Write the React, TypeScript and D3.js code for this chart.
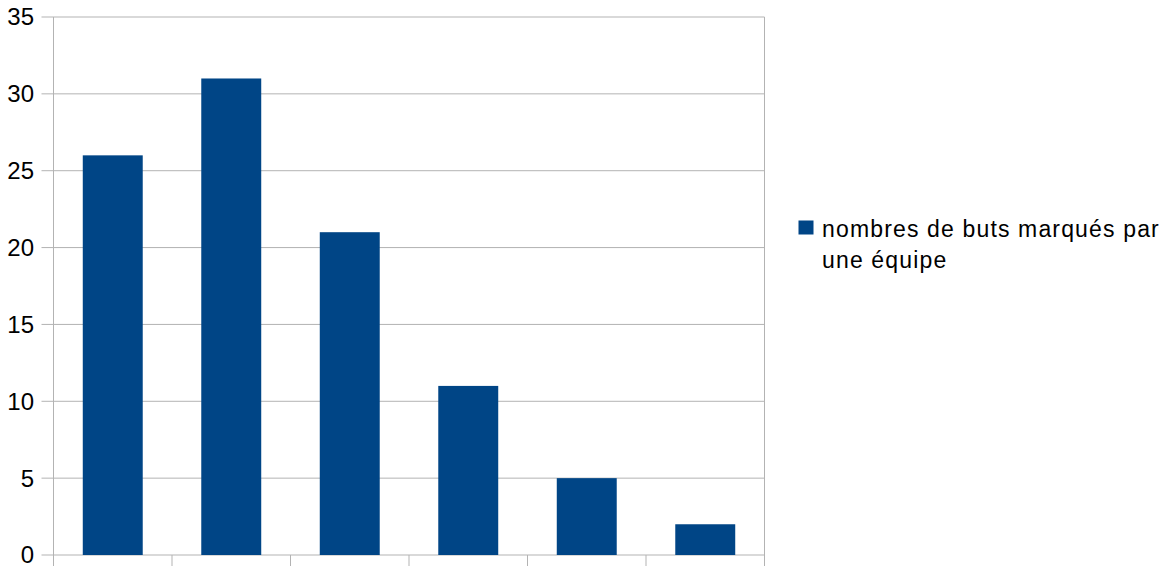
import React, { useEffect, useRef } from "react";
import * as d3 from "d3";

const categories = ["0", "1", "2", "3", "4", "5"];
const goals = [26, 31, 21, 11, 5, 2];
const yTicks = [0, 5, 10, 15, 20, 25, 30, 35];
const legendLines = ["nombres de buts marqués par", "une équipe"];

const App = () => {
  const svg = useRef(null);

  useEffect(() => {
    const width = 1172;
    const height = 566;
    const margin = { top: 17, right: 407.5, bottom: 11, left: 53.5 };

    const root = d3.select(svg.current);
    root.selectAll("*").remove();

    const x = d3
      .scaleBand()
      .domain(categories)
      .range([margin.left, width - margin.right])
      .paddingInner(0.494)
      .paddingOuter(0.247);

    const y = d3
      .scaleLinear()
      .domain([0, 35])
      .range([height - margin.bottom, margin.top]);

    // grid lines
    root
      .append("g")
      .selectAll("line")
      .data(yTicks)
      .join("line")
      .attr("x1", margin.left - 12)
      .attr("x2", width - margin.right)
      .attr("y1", (d) => y(d))
      .attr("y2", (d) => y(d))
      .attr("stroke", "#b3b3b3")
      .attr("stroke-width", 1);

    // y labels
    root
      .append("g")
      .selectAll("text")
      .data(yTicks)
      .join("text")
      .attr("x", 34)
      .attr("y", (d) => y(d))
      .attr("dy", "0.35em")
      .attr("text-anchor", "end")
      .attr("font-family", "Liberation Sans, Arial, sans-serif")
      .attr("font-size", 24)
      .attr("fill", "#000")
      .text((d) => d);

    // vertical axis + right border
    root
      .append("line")
      .attr("x1", margin.left)
      .attr("x2", margin.left)
      .attr("y1", margin.top)
      .attr("y2", height)
      .attr("stroke", "#b3b3b3");
    root
      .append("line")
      .attr("x1", width - margin.right)
      .attr("x2", width - margin.right)
      .attr("y1", margin.top)
      .attr("y2", height)
      .attr("stroke", "#b3b3b3");

    // category ticks
    const step = x.step();
    root
      .append("g")
      .selectAll("line")
      .data(categories.slice(1))
      .join("line")
      .attr("x1", (d) => x(d) - (step - x.bandwidth()) / 2)
      .attr("x2", (d) => x(d) - (step - x.bandwidth()) / 2)
      .attr("y1", y(0))
      .attr("y2", height)
      .attr("stroke", "#b3b3b3");

    // bars
    root
      .append("g")
      .selectAll("rect")
      .data(goals)
      .join("rect")
      .attr("x", (d, i) => x(categories[i]))
      .attr("y", (d) => y(d))
      .attr("width", x.bandwidth())
      .attr("height", (d) => y(0) - y(d))
      .attr("fill", "#004586");

    // legend
    const legend = root.append("g");
    legend
      .append("rect")
      .attr("x", 798.5)
      .attr("y", 220.5)
      .attr("width", 15)
      .attr("height", 14)
      .attr("fill", "#004586");
    legend
      .selectAll("text")
      .data(legendLines)
      .join("text")
      .attr("x", 822)
      .attr("y", (d, i) => 237 + i * 31)
      .attr("font-family", "Liberation Sans, Arial, sans-serif")
      .attr("font-size", 23)
      .attr("letter-spacing", 1.15)
      .attr("fill", "#000")
      .text((d) => d);
  }, []);

  return (
    <svg
      ref={svg}
      width={1172}
      height={566}
      style={{ position: "absolute", left: 0, top: 0, background: "#fff" }}
    />
  );
};

export default App;
